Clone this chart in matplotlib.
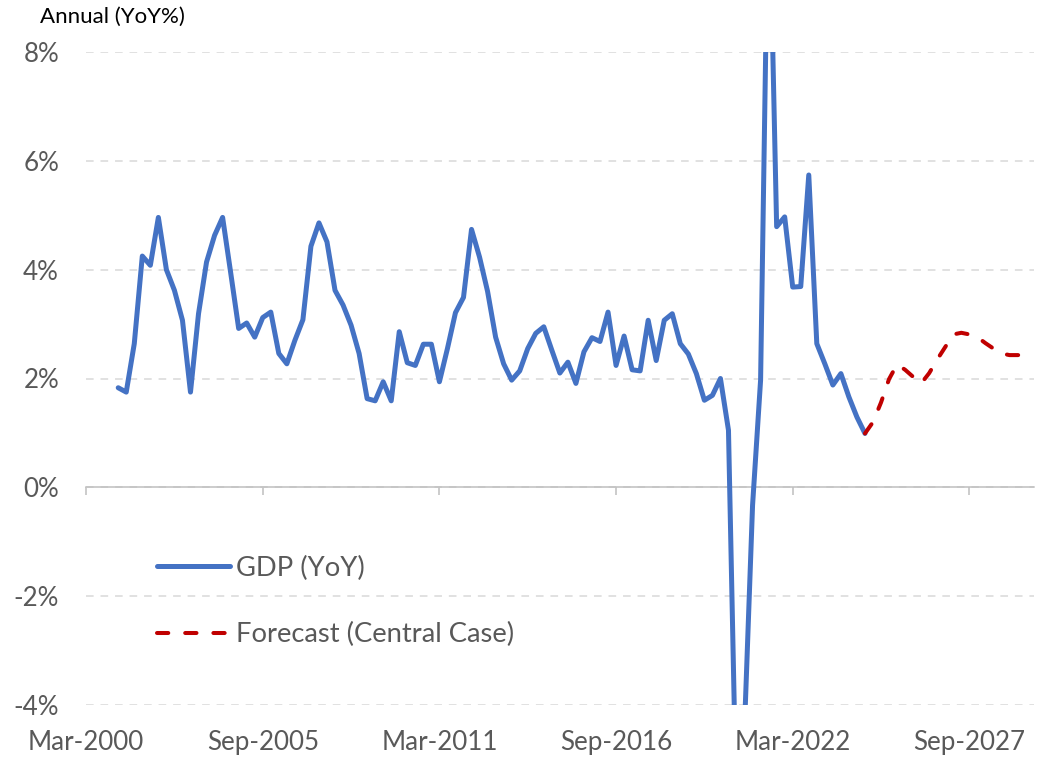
import matplotlib.pyplot as plt
import numpy as np
import pandas as pd

plt.rcParams['font.family'] = ['Lato', 'DejaVu Sans']

# quarterly categories, Mar-2000 .. Sep-2029
quarters = pd.period_range("2000Q1", "2029Q3", freq="Q")
tick_labels = ["Mar-2000", "Sep-2005", "Mar-2011", "Sep-2016", "Mar-2022", "Sep-2027"]
tick_every = 22

# actual GDP YoY %, starting Mar-2001
gdp_start = pd.Period("2001Q1", freq="Q")
gdp_yoy = [1.83, 1.75, 2.64, 4.25, 4.08, 4.96, 4.00, 3.62, 3.07, 1.75,
           3.19, 4.14, 4.63, 4.96, 3.95, 2.92, 3.02, 2.76, 3.12, 3.22,
           2.46, 2.27, 2.70, 3.08, 4.43, 4.86, 4.51, 3.62, 3.35, 2.98,
           2.46, 1.63, 1.59, 1.94, 1.59, 2.86, 2.29, 2.24, 2.63, 2.63,
           1.94, 2.55, 3.21, 3.49, 4.74, 4.23, 3.60, 2.76, 2.27, 1.97,
           2.14, 2.55, 2.83, 2.95, 2.52, 2.10, 2.30, 1.91, 2.49, 2.75,
           2.68, 3.22, 2.24, 2.78, 2.16, 2.14, 3.07, 2.33, 3.07, 3.19,
           2.64, 2.45, 2.09, 1.60, 1.69, 2.00, 1.05, -6.00, -4.40, -0.33,
           1.97, 11.5, 4.79, 4.97, 3.68, 3.69, 5.74, 2.64, 2.27, 1.88,
           2.09, 1.66, 1.29, 0.99]

# forecast (central case), starting Jun-2024
fcst_start = pd.Period("2024Q2", freq="Q")
forecast = [0.99, 1.20, 1.56, 1.99, 2.26, 2.16, 2.03, 1.91, 2.10, 2.35,
            2.58, 2.81, 2.84, 2.81, 2.76, 2.65, 2.55, 2.46, 2.43, 2.43,
            2.43, 2.43]

x_all = np.arange(len(quarters))
g0 = list(quarters).index(gdp_start)
f0 = list(quarters).index(fcst_start)
x_gdp = x_all[g0:g0 + len(gdp_yoy)]
x_fc = x_all[f0:f0 + len(forecast)]

W, H = 1045, 758
fig = plt.figure(figsize=(W / 100, H / 100), dpi=100)
ax = fig.add_axes([86.1 / W, 1 - 705 / H, (1033.6 - 86.1) / W, (705 - 52) / H])

grey_txt = '#595959'

ax.plot(x_gdp, gdp_yoy, color='#4472C4', lw=3.6, solid_capstyle='round',
        solid_joinstyle='round', label='GDP (YoY)', zorder=3)
ax.plot(x_fc, forecast, color='#C00000', lw=2.9, linestyle=(0, (2.8, 4.2)),
        dash_capstyle='round', label='Forecast (Central Case)', zorder=3)

ax.set_xlim(0, len(quarters) - 1)
ax.set_ylim(-4, 8)
ax.set_yticks(np.arange(-4, 9, 2))
ax.set_yticklabels([f"{v}%" for v in np.arange(-4, 9, 2)])
ax.yaxis.grid(True, color='#D9D9D9', linestyle=(0, (5, 4.5)), lw=1.1)
ax.set_axisbelow(True)
ax.tick_params(axis='y', length=0, pad=19.5, labelsize=18.7, labelcolor=grey_txt)

for s in ['left', 'top', 'right']:
    ax.spines[s].set_visible(False)
ax.spines['bottom'].set_position(('data', 0))
ax.spines['bottom'].set_color('#BFBFBF')
ax.spines['bottom'].set_linewidth(1.1)

tick_pos = x_all[::tick_every]
ax.set_xticks(tick_pos)
ax.tick_params(axis='x', length=5.8, width=1.1, color='#BFBFBF', labelbottom=False)

sec = ax.secondary_xaxis('bottom')
sec.set_xticks(tick_pos, tick_labels)
sec.tick_params(length=0, pad=18, labelsize=18.7, labelcolor=grey_txt)
sec.spines['bottom'].set_visible(False)

ax.legend(loc='upper left', bbox_to_anchor=(0.075, 0.229), frameon=False,
          fontsize=19.7, labelcolor=grey_txt, handlelength=2.66, handletextpad=0.22,
          labelspacing=1.52, borderpad=0, borderaxespad=0)

fig.text(40 / W, 1 - 17 / H, "Annual (YoY%)", ha='left', va='center',
         fontsize=16, color='black')

fig.savefig('out.png', dpi=100)
